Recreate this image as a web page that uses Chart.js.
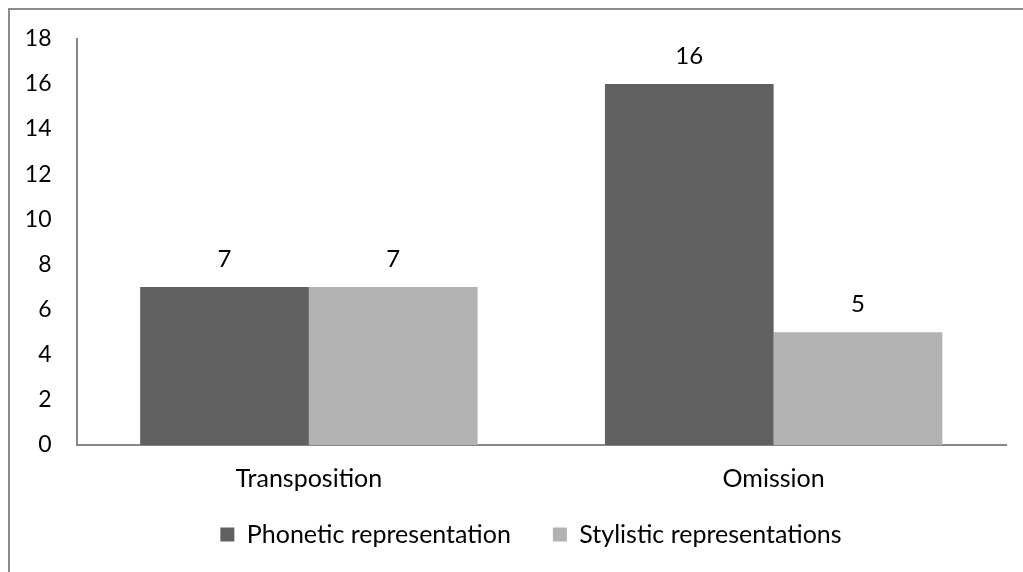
<!DOCTYPE html>
<html>
<head>
<meta charset="utf-8">
<script src="https://cdn.jsdelivr.net/npm/chart.js@4"></script>
<style>
  html, body { margin: 0; padding: 0; background: #fff; }
  #wrap { position: relative; width: 1023px; height: 572px; overflow: hidden; }
  #frame { position: absolute; left: 8px; top: 8px; width: 1100px; height: 700px;
           border-top: 2px solid #8c8c8c; border-left: 2px solid #8c8c8c; }
  canvas { position: absolute; left: 0; top: 0; }
</style>
</head>
<body>
<div id="wrap">
  <div id="frame"></div>
  <canvas id="chart" width="1023" height="572"></canvas>
</div>
<script>
// Data
const categories = ['Transposition', 'Omission'];
const phonetic = [7, 16];
const stylistic = [7, 5];
const seriesNames = ['Phonetic representation', 'Stylistic representations'];

const FONT = 'Lato, "Open Sans", sans-serif';

// Draw the value above each bar
const valueLabels = {
    id: 'valueLabels',
    afterDatasetsDraw(chart) {
        const ctx = chart.ctx;
        ctx.save();
        ctx.font = '24px ' + FONT;
        ctx.fillStyle = '#000';
        ctx.textAlign = 'center';
        ctx.textBaseline = 'alphabetic';
        chart.data.datasets.forEach((ds, i) => {
            chart.getDatasetMeta(i).data.forEach((bar, j) => {
                ctx.fillText(String(ds.data[j]), bar.x, bar.y - 20);
            });
        });
        ctx.restore();
    }
};

// Legend in the original sits a bit right of centre and closer to the axis labels
const legendShift = {
    id: 'legendShift',
    afterLayout(chart) {
        const lg = chart.legend;
        lg.left += 24;
        lg.right += 24;
        lg.top -= 14;
        lg.bottom -= 14;
    }
};

const chart = new Chart(document.getElementById('chart'), {
    type: 'bar',
    data: {
        labels: categories,
        datasets: [{
            label: seriesNames[0],
            data: phonetic,
            backgroundColor: '#606060'
        }, {
            label: seriesNames[1],
            data: stylistic,
            backgroundColor: '#b2b2b2'
        }]
    },
    options: {
        responsive: false,
        animation: false,
        layout: {
            padding: { left: 8, right: 17, top: 28, bottom: 1 }
        },
        datasets: {
            bar: {
                categoryPercentage: 0.726,
                barPercentage: 1.0,
                borderWidth: 0
            }
        },
        plugins: {
            tooltip: { enabled: false },
            legend: {
                position: 'bottom',
                labels: {
                    boxWidth: 14,
                    boxHeight: 14,
                    padding: 42,
                    color: '#000',
                    font: { family: FONT, size: 25 }
                }
            }
        },
        scales: {
            x: {
                grid: { display: false, drawTicks: false },
                border: { color: '#878787', width: 2 },
                ticks: {
                    color: '#000',
                    padding: 19,
                    font: { family: FONT, size: 25 }
                },
                afterFit(scale) { scale.height = 49; }
            },
            y: {
                min: 0,
                max: 18,
                grid: { display: false, drawTicks: false },
                border: { color: '#878787', width: 2 },
                ticks: {
                    stepSize: 2,
                    color: '#000',
                    padding: 25,
                    font: { family: FONT, size: 23 }
                },
                afterFit(scale) { scale.width = 68.5; }
            }
        }
    },
    plugins: [valueLabels, legendShift]
});
</script>
</body>
</html>
